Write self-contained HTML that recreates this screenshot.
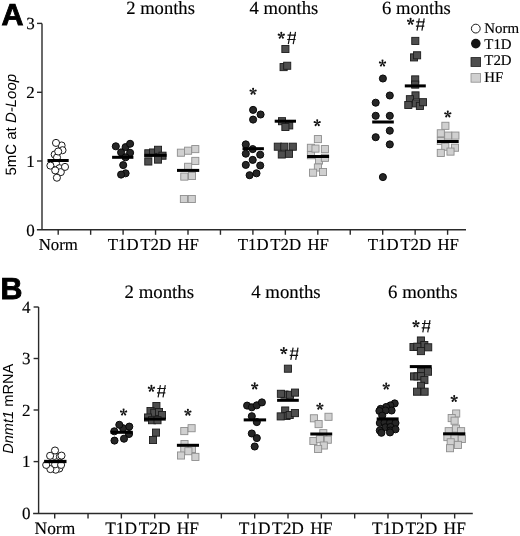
<!DOCTYPE html>
<html><head><meta charset="utf-8"><title>Figure</title>
<style>html,body{margin:0;padding:0;background:#fff;}svg{display:block;filter:blur(0.35px);} text{text-rendering:geometricPrecision;}</style></head>
<body><svg width="520" height="536" viewBox="0 0 520 536">
<defs><g id="ast" fill="#111">
<path id="arm" d="M-0.3,0.1 L-0.95,-2.45 A1.0,1.0 0 1,1 0.95,-2.45 L0.3,0.1 Z"/>
<use href="#arm" transform="rotate(72)"/><use href="#arm" transform="rotate(144)"/><use href="#arm" transform="rotate(216)"/><use href="#arm" transform="rotate(288)"/>
</g>
<g id="hash" stroke="#111" stroke-width="1.2" fill="none"><path d="M3.3,0.2 L1.0,12.5 M8.2,0.2 L5.9,12.5 M0.2,3.6 L8.7,3.6 M-0.1,7.9 L8.3,7.9"/></g>
</defs>
<rect width="520" height="536" fill="#fff"/>
<g stroke="#2a2a2a" stroke-width="1.4" fill="none">
<line x1="42" y1="23.4" x2="42" y2="229.8"/>
<line x1="36.9" y1="229.8" x2="466" y2="229.8"/>
<line x1="37" y1="23.4" x2="42" y2="23.4"/>
<line x1="37" y1="92.3" x2="42" y2="92.3"/>
<line x1="37" y1="161" x2="42" y2="161"/>
<line x1="58.2" y1="229.8" x2="58.2" y2="234.8"/>
<line x1="90.65" y1="229.8" x2="90.65" y2="234.8"/>
<line x1="123.10000000000001" y1="229.8" x2="123.10000000000001" y2="234.8"/>
<line x1="155.55" y1="229.8" x2="155.55" y2="234.8"/>
<line x1="188.0" y1="229.8" x2="188.0" y2="234.8"/>
<line x1="220.45" y1="229.8" x2="220.45" y2="234.8"/>
<line x1="252.90000000000003" y1="229.8" x2="252.90000000000003" y2="234.8"/>
<line x1="285.35" y1="229.8" x2="285.35" y2="234.8"/>
<line x1="317.8" y1="229.8" x2="317.8" y2="234.8"/>
<line x1="350.25" y1="229.8" x2="350.25" y2="234.8"/>
<line x1="382.7" y1="229.8" x2="382.7" y2="234.8"/>
<line x1="415.15000000000003" y1="229.8" x2="415.15000000000003" y2="234.8"/>
<line x1="447.6" y1="229.8" x2="447.6" y2="234.8"/>
</g>
<text x="34.7" y="29.2" font-family="Liberation Serif" font-size="17" text-anchor="end"  stroke="#000" stroke-width="0.15">3</text>
<text x="34.7" y="98.1" font-family="Liberation Serif" font-size="17" text-anchor="end"  stroke="#000" stroke-width="0.15">2</text>
<text x="34.7" y="166.8" font-family="Liberation Serif" font-size="17" text-anchor="end"  stroke="#000" stroke-width="0.15">1</text>
<text x="34.7" y="235.6" font-family="Liberation Serif" font-size="17" text-anchor="end"  stroke="#000" stroke-width="0.15">0</text>
<text x="1.6" y="24.9" font-family="Liberation Sans" font-size="30.4" text-anchor="start" font-weight="bold" stroke="#000" stroke-width="0.9">A</text>
<text transform="translate(16.4,175.6) rotate(-90)" font-family="Liberation Sans" font-size="15">5mC at <tspan font-style="italic">D-Loop</tspan></text>
<text x="126.2" y="13.9" font-family="Liberation Serif" font-size="18.6" text-anchor="start"  stroke="#000" stroke-width="0.15">2 months</text>
<text x="249.5" y="13.9" font-family="Liberation Serif" font-size="18.6" text-anchor="start"  stroke="#000" stroke-width="0.15">4 months</text>
<text x="382.1" y="13.8" font-family="Liberation Serif" font-size="18.6" text-anchor="start"  stroke="#000" stroke-width="0.15">6 months</text>
<text x="58.3" y="250.4" font-family="Liberation Serif" font-size="16.8" text-anchor="middle"  stroke="#000" stroke-width="0.15">Norm</text>
<text x="123.2" y="250.4" font-family="Liberation Serif" font-size="16.8" text-anchor="middle"  stroke="#000" stroke-width="0.15">T1D</text>
<text x="155.7" y="250.4" font-family="Liberation Serif" font-size="16.8" text-anchor="middle"  stroke="#000" stroke-width="0.15">T2D</text>
<text x="188.2" y="250.4" font-family="Liberation Serif" font-size="16.8" text-anchor="middle"  stroke="#000" stroke-width="0.15">HF</text>
<text x="253.2" y="250.4" font-family="Liberation Serif" font-size="16.8" text-anchor="middle"  stroke="#000" stroke-width="0.15">T1D</text>
<text x="285.7" y="250.4" font-family="Liberation Serif" font-size="16.8" text-anchor="middle"  stroke="#000" stroke-width="0.15">T2D</text>
<text x="318.2" y="250.4" font-family="Liberation Serif" font-size="16.8" text-anchor="middle"  stroke="#000" stroke-width="0.15">HF</text>
<text x="383.2" y="250.4" font-family="Liberation Serif" font-size="16.8" text-anchor="middle"  stroke="#000" stroke-width="0.15">T1D</text>
<text x="415.7" y="250.4" font-family="Liberation Serif" font-size="16.8" text-anchor="middle"  stroke="#000" stroke-width="0.15">T2D</text>
<text x="448.2" y="250.4" font-family="Liberation Serif" font-size="16.8" text-anchor="middle"  stroke="#000" stroke-width="0.15">HF</text>
<circle cx="61.6" cy="145.5" r="3.55" fill="#fff" stroke="#1a1a1a" stroke-width="1.0"/>
<circle cx="62.5" cy="150.2" r="3.55" fill="#fff" stroke="#1a1a1a" stroke-width="1.0"/>
<circle cx="54.7" cy="154.5" r="3.55" fill="#fff" stroke="#1a1a1a" stroke-width="1.0"/>
<circle cx="57.0" cy="157.5" r="3.55" fill="#fff" stroke="#1a1a1a" stroke-width="1.0"/>
<circle cx="56.0" cy="142.9" r="3.55" fill="#fff" stroke="#1a1a1a" stroke-width="1.0"/>
<circle cx="58.2" cy="151.5" r="3.55" fill="#fff" stroke="#1a1a1a" stroke-width="1.0"/>
<circle cx="56.0" cy="163.5" r="3.55" fill="#fff" stroke="#1a1a1a" stroke-width="1.0"/>
<circle cx="59.5" cy="168.2" r="3.55" fill="#fff" stroke="#1a1a1a" stroke-width="1.0"/>
<circle cx="60.8" cy="172.1" r="3.55" fill="#fff" stroke="#1a1a1a" stroke-width="1.0"/>
<circle cx="50.4" cy="165.6" r="3.55" fill="#fff" stroke="#1a1a1a" stroke-width="1.0"/>
<circle cx="65.0" cy="166.9" r="3.55" fill="#fff" stroke="#1a1a1a" stroke-width="1.0"/>
<circle cx="55.2" cy="170.4" r="3.55" fill="#fff" stroke="#1a1a1a" stroke-width="1.0"/>
<circle cx="56.9" cy="177.7" r="3.55" fill="#fff" stroke="#1a1a1a" stroke-width="1.0"/>
<rect x="47.5" y="159.00" width="21.2" height="3.0" fill="#000"/>
<circle cx="115.8" cy="146.3" r="3.55" fill="#262626" stroke="#080808" stroke-width="1.0"/>
<circle cx="125.6" cy="147.1" r="3.55" fill="#262626" stroke="#080808" stroke-width="1.0"/>
<circle cx="130.1" cy="143.8" r="3.55" fill="#262626" stroke="#080808" stroke-width="1.0"/>
<circle cx="121.1" cy="152.4" r="3.55" fill="#262626" stroke="#080808" stroke-width="1.0"/>
<circle cx="130.1" cy="152.8" r="3.55" fill="#262626" stroke="#080808" stroke-width="1.0"/>
<circle cx="125.6" cy="157.3" r="3.55" fill="#262626" stroke="#080808" stroke-width="1.0"/>
<circle cx="123.2" cy="165.1" r="3.55" fill="#262626" stroke="#080808" stroke-width="1.0"/>
<circle cx="125.6" cy="173.3" r="3.55" fill="#262626" stroke="#080808" stroke-width="1.0"/>
<circle cx="121.1" cy="174.6" r="3.55" fill="#262626" stroke="#080808" stroke-width="1.0"/>
<rect x="112.1" y="155.80" width="21.3" height="3.0" fill="#000"/>
<rect x="144.75" y="149.75" width="7.10" height="7.10" fill="#4e4e4e" stroke="#1c1c1c" stroke-width="0.9"/>
<rect x="149.45" y="148.95" width="7.10" height="7.10" fill="#4e4e4e" stroke="#1c1c1c" stroke-width="0.9"/>
<rect x="154.45" y="146.25" width="7.10" height="7.10" fill="#4e4e4e" stroke="#1c1c1c" stroke-width="0.9"/>
<rect x="158.95" y="152.15" width="7.10" height="7.10" fill="#4e4e4e" stroke="#1c1c1c" stroke-width="0.9"/>
<rect x="144.75" y="157.95" width="7.10" height="7.10" fill="#4e4e4e" stroke="#1c1c1c" stroke-width="0.9"/>
<rect x="154.45" y="156.05" width="7.10" height="7.10" fill="#4e4e4e" stroke="#1c1c1c" stroke-width="0.9"/>
<rect x="144.4" y="153.80" width="22.2" height="3.0" fill="#000"/>
<rect x="177.35" y="149.15" width="7.10" height="7.10" fill="#d0d0d0" stroke="#8e8e8e" stroke-width="0.9"/>
<rect x="184.55" y="147.15" width="7.10" height="7.10" fill="#d0d0d0" stroke="#8e8e8e" stroke-width="0.9"/>
<rect x="191.75" y="145.55" width="7.10" height="7.10" fill="#d0d0d0" stroke="#8e8e8e" stroke-width="0.9"/>
<rect x="191.75" y="157.35" width="7.10" height="7.10" fill="#d0d0d0" stroke="#8e8e8e" stroke-width="0.9"/>
<rect x="184.55" y="163.25" width="7.10" height="7.10" fill="#d0d0d0" stroke="#8e8e8e" stroke-width="0.9"/>
<rect x="180.75" y="173.05" width="7.10" height="7.10" fill="#d0d0d0" stroke="#8e8e8e" stroke-width="0.9"/>
<rect x="188.45" y="172.35" width="7.10" height="7.10" fill="#d0d0d0" stroke="#8e8e8e" stroke-width="0.9"/>
<rect x="180.35" y="195.45" width="7.10" height="7.10" fill="#d0d0d0" stroke="#8e8e8e" stroke-width="0.9"/>
<rect x="188.25" y="195.45" width="7.10" height="7.10" fill="#d0d0d0" stroke="#8e8e8e" stroke-width="0.9"/>
<rect x="177.0" y="168.90" width="22.2" height="3.0" fill="#000"/>
<use href="#ast" x="253.10" y="91.40"/>
<circle cx="253.1" cy="109.9" r="3.55" fill="#262626" stroke="#080808" stroke-width="1.0"/>
<circle cx="260.6" cy="114.5" r="3.55" fill="#262626" stroke="#080808" stroke-width="1.0"/>
<circle cx="253.1" cy="119.6" r="3.55" fill="#262626" stroke="#080808" stroke-width="1.0"/>
<circle cx="245.8" cy="144.4" r="3.55" fill="#262626" stroke="#080808" stroke-width="1.0"/>
<circle cx="252.7" cy="149.1" r="3.55" fill="#262626" stroke="#080808" stroke-width="1.0"/>
<circle cx="245.8" cy="153.7" r="3.55" fill="#262626" stroke="#080808" stroke-width="1.0"/>
<circle cx="260.2" cy="154.7" r="3.55" fill="#262626" stroke="#080808" stroke-width="1.0"/>
<circle cx="252.7" cy="159.9" r="3.55" fill="#262626" stroke="#080808" stroke-width="1.0"/>
<circle cx="245.8" cy="164.9" r="3.55" fill="#262626" stroke="#080808" stroke-width="1.0"/>
<circle cx="260.2" cy="165.5" r="3.55" fill="#262626" stroke="#080808" stroke-width="1.0"/>
<circle cx="249.6" cy="175.2" r="3.55" fill="#262626" stroke="#080808" stroke-width="1.0"/>
<circle cx="256.5" cy="173.3" r="3.55" fill="#262626" stroke="#080808" stroke-width="1.0"/>
<rect x="242.5" y="147.20" width="21.4" height="3.0" fill="#000"/>
<use href="#ast" x="281.30" y="35.50"/>
<use href="#hash" x="287.30" y="31.60"/>
<rect x="281.85" y="45.45" width="7.10" height="7.10" fill="#4e4e4e" stroke="#1c1c1c" stroke-width="0.9"/>
<rect x="280.05" y="63.55" width="7.10" height="7.10" fill="#4e4e4e" stroke="#1c1c1c" stroke-width="0.9"/>
<rect x="283.65" y="62.20" width="7.10" height="7.10" fill="#4e4e4e" stroke="#1c1c1c" stroke-width="0.9"/>
<rect x="278.45" y="117.65" width="7.10" height="7.10" fill="#4e4e4e" stroke="#1c1c1c" stroke-width="0.9"/>
<rect x="285.65" y="121.85" width="7.10" height="7.10" fill="#4e4e4e" stroke="#1c1c1c" stroke-width="0.9"/>
<rect x="281.85" y="123.45" width="7.10" height="7.10" fill="#4e4e4e" stroke="#1c1c1c" stroke-width="0.9"/>
<rect x="274.25" y="143.15" width="7.10" height="7.10" fill="#4e4e4e" stroke="#1c1c1c" stroke-width="0.9"/>
<rect x="280.75" y="143.15" width="7.10" height="7.10" fill="#4e4e4e" stroke="#1c1c1c" stroke-width="0.9"/>
<rect x="289.25" y="143.15" width="7.10" height="7.10" fill="#4e4e4e" stroke="#1c1c1c" stroke-width="0.9"/>
<rect x="278.25" y="150.95" width="7.10" height="7.10" fill="#4e4e4e" stroke="#1c1c1c" stroke-width="0.9"/>
<rect x="285.45" y="150.25" width="7.10" height="7.10" fill="#4e4e4e" stroke="#1c1c1c" stroke-width="0.9"/>
<rect x="274.7" y="119.70" width="21.3" height="3.0" fill="#000"/>
<use href="#ast" x="317.20" y="122.90"/>
<rect x="314.35" y="135.55" width="7.10" height="7.10" fill="#d0d0d0" stroke="#8e8e8e" stroke-width="0.9"/>
<rect x="307.35" y="144.25" width="7.10" height="7.10" fill="#d0d0d0" stroke="#8e8e8e" stroke-width="0.9"/>
<rect x="307.35" y="151.65" width="7.10" height="7.10" fill="#d0d0d0" stroke="#8e8e8e" stroke-width="0.9"/>
<rect x="311.95" y="145.05" width="7.10" height="7.10" fill="#d0d0d0" stroke="#8e8e8e" stroke-width="0.9"/>
<rect x="321.35" y="145.55" width="7.10" height="7.10" fill="#d0d0d0" stroke="#8e8e8e" stroke-width="0.9"/>
<rect x="315.45" y="156.95" width="7.10" height="7.10" fill="#d0d0d0" stroke="#8e8e8e" stroke-width="0.9"/>
<rect x="321.35" y="154.25" width="7.10" height="7.10" fill="#d0d0d0" stroke="#8e8e8e" stroke-width="0.9"/>
<rect x="314.35" y="163.95" width="7.10" height="7.10" fill="#d0d0d0" stroke="#8e8e8e" stroke-width="0.9"/>
<rect x="309.55" y="169.15" width="7.10" height="7.10" fill="#d0d0d0" stroke="#8e8e8e" stroke-width="0.9"/>
<rect x="319.45" y="168.45" width="7.10" height="7.10" fill="#d0d0d0" stroke="#8e8e8e" stroke-width="0.9"/>
<rect x="307.1" y="155.00" width="22.0" height="3.0" fill="#000"/>
<use href="#ast" x="382.50" y="63.30"/>
<circle cx="382.9" cy="78.5" r="3.55" fill="#262626" stroke="#080808" stroke-width="1.0"/>
<circle cx="389.8" cy="95.5" r="3.55" fill="#262626" stroke="#080808" stroke-width="1.0"/>
<circle cx="375.7" cy="102.7" r="3.55" fill="#262626" stroke="#080808" stroke-width="1.0"/>
<circle cx="375.7" cy="115.8" r="3.55" fill="#262626" stroke="#080808" stroke-width="1.0"/>
<circle cx="389.8" cy="115.8" r="3.55" fill="#262626" stroke="#080808" stroke-width="1.0"/>
<circle cx="389.8" cy="130.7" r="3.55" fill="#262626" stroke="#080808" stroke-width="1.0"/>
<circle cx="375.7" cy="137.2" r="3.55" fill="#262626" stroke="#080808" stroke-width="1.0"/>
<circle cx="389.8" cy="144.4" r="3.55" fill="#262626" stroke="#080808" stroke-width="1.0"/>
<circle cx="382.9" cy="177.1" r="3.55" fill="#262626" stroke="#080808" stroke-width="1.0"/>
<rect x="372.2" y="120.50" width="21.6" height="3.0" fill="#000"/>
<use href="#ast" x="410.60" y="21.55"/>
<use href="#hash" x="416.00" y="18.20"/>
<rect x="411.75" y="37.35" width="7.10" height="7.10" fill="#4e4e4e" stroke="#1c1c1c" stroke-width="0.9"/>
<rect x="410.45" y="53.85" width="7.10" height="7.10" fill="#4e4e4e" stroke="#1c1c1c" stroke-width="0.9"/>
<rect x="413.55" y="51.75" width="7.10" height="7.10" fill="#4e4e4e" stroke="#1c1c1c" stroke-width="0.9"/>
<rect x="411.65" y="75.85" width="7.10" height="7.10" fill="#4e4e4e" stroke="#1c1c1c" stroke-width="0.9"/>
<rect x="411.65" y="81.05" width="7.10" height="7.10" fill="#4e4e4e" stroke="#1c1c1c" stroke-width="0.9"/>
<rect x="411.95" y="91.85" width="7.10" height="7.10" fill="#4e4e4e" stroke="#1c1c1c" stroke-width="0.9"/>
<rect x="406.35" y="95.65" width="7.10" height="7.10" fill="#4e4e4e" stroke="#1c1c1c" stroke-width="0.9"/>
<rect x="404.75" y="101.45" width="7.10" height="7.10" fill="#4e4e4e" stroke="#1c1c1c" stroke-width="0.9"/>
<rect x="412.45" y="99.85" width="7.10" height="7.10" fill="#4e4e4e" stroke="#1c1c1c" stroke-width="0.9"/>
<rect x="416.35" y="102.35" width="7.10" height="7.10" fill="#4e4e4e" stroke="#1c1c1c" stroke-width="0.9"/>
<rect x="419.45" y="98.65" width="7.10" height="7.10" fill="#4e4e4e" stroke="#1c1c1c" stroke-width="0.9"/>
<rect x="404.8" y="84.40" width="21.0" height="3.0" fill="#000"/>
<use href="#ast" x="447.80" y="114.20"/>
<rect x="441.85" y="122.25" width="7.10" height="7.10" fill="#d0d0d0" stroke="#8e8e8e" stroke-width="0.9"/>
<rect x="437.25" y="129.75" width="7.10" height="7.10" fill="#d0d0d0" stroke="#8e8e8e" stroke-width="0.9"/>
<rect x="444.65" y="132.05" width="7.10" height="7.10" fill="#d0d0d0" stroke="#8e8e8e" stroke-width="0.9"/>
<rect x="451.85" y="132.05" width="7.10" height="7.10" fill="#d0d0d0" stroke="#8e8e8e" stroke-width="0.9"/>
<rect x="437.25" y="137.45" width="7.10" height="7.10" fill="#d0d0d0" stroke="#8e8e8e" stroke-width="0.9"/>
<rect x="441.75" y="143.15" width="7.10" height="7.10" fill="#d0d0d0" stroke="#8e8e8e" stroke-width="0.9"/>
<rect x="451.45" y="144.15" width="7.10" height="7.10" fill="#d0d0d0" stroke="#8e8e8e" stroke-width="0.9"/>
<rect x="437.25" y="149.35" width="7.10" height="7.10" fill="#d0d0d0" stroke="#8e8e8e" stroke-width="0.9"/>
<rect x="446.95" y="148.05" width="7.10" height="7.10" fill="#d0d0d0" stroke="#8e8e8e" stroke-width="0.9"/>
<rect x="437.0" y="140.00" width="21.7" height="3.0" fill="#000"/>
<circle cx="475.8" cy="28.6" r="4.4" fill="#fff" stroke="#1a1a1a" stroke-width="1"/>
<circle cx="475.8" cy="43.6" r="4.8" fill="#141414"/>
<rect x="471" y="57.6" width="9.6" height="8.8" fill="#4e4e4e" stroke="#1c1c1c" stroke-width="0.8"/>
<rect x="471" y="73.6" width="9.6" height="8.6" fill="#d0d0d0" stroke="#8e8e8e" stroke-width="0.8"/>
<text x="484.3" y="32.6" font-family="Liberation Serif" font-size="14.9" text-anchor="start"  stroke="#000" stroke-width="0.15">Norm</text>
<text x="484.3" y="48.7" font-family="Liberation Serif" font-size="14.9" text-anchor="start"  stroke="#000" stroke-width="0.15">T1D</text>
<text x="484.3" y="65.3" font-family="Liberation Serif" font-size="14.9" text-anchor="start"  stroke="#000" stroke-width="0.15">T2D</text>
<text x="484.3" y="81.5" font-family="Liberation Serif" font-size="14.9" text-anchor="start"  stroke="#000" stroke-width="0.15">HF</text>
<g stroke="#2a2a2a" stroke-width="1.4" fill="none">
<line x1="38.6" y1="307" x2="38.6" y2="513.5"/>
<line x1="33.1" y1="513.5" x2="472.8" y2="513.5"/>
<line x1="33.6" y1="307" x2="38.6" y2="307"/>
<line x1="33.6" y1="358.5" x2="38.6" y2="358.5"/>
<line x1="33.6" y1="410" x2="38.6" y2="410"/>
<line x1="33.6" y1="461.6" x2="38.6" y2="461.6"/>
<line x1="54.7" y1="513.5" x2="54.7" y2="518.5"/>
<line x1="88.03" y1="513.5" x2="88.03" y2="518.5"/>
<line x1="121.36" y1="513.5" x2="121.36" y2="518.5"/>
<line x1="154.69" y1="513.5" x2="154.69" y2="518.5"/>
<line x1="188.01999999999998" y1="513.5" x2="188.01999999999998" y2="518.5"/>
<line x1="221.34999999999997" y1="513.5" x2="221.34999999999997" y2="518.5"/>
<line x1="254.68" y1="513.5" x2="254.68" y2="518.5"/>
<line x1="288.01" y1="513.5" x2="288.01" y2="518.5"/>
<line x1="321.34" y1="513.5" x2="321.34" y2="518.5"/>
<line x1="354.66999999999996" y1="513.5" x2="354.66999999999996" y2="518.5"/>
<line x1="387.99999999999994" y1="513.5" x2="387.99999999999994" y2="518.5"/>
<line x1="421.33" y1="513.5" x2="421.33" y2="518.5"/>
<line x1="454.65999999999997" y1="513.5" x2="454.65999999999997" y2="518.5"/>
</g>
<text x="30.6" y="312.8" font-family="Liberation Serif" font-size="17" text-anchor="end"  stroke="#000" stroke-width="0.15">4</text>
<text x="30.6" y="364.3" font-family="Liberation Serif" font-size="17" text-anchor="end"  stroke="#000" stroke-width="0.15">3</text>
<text x="30.6" y="415.8" font-family="Liberation Serif" font-size="17" text-anchor="end"  stroke="#000" stroke-width="0.15">2</text>
<text x="30.6" y="467.4" font-family="Liberation Serif" font-size="17" text-anchor="end"  stroke="#000" stroke-width="0.15">1</text>
<text x="30.6" y="519.3" font-family="Liberation Serif" font-size="17" text-anchor="end"  stroke="#000" stroke-width="0.15">0</text>
<text x="0.4" y="299.3" font-family="Liberation Sans" font-size="30.4" text-anchor="start" font-weight="bold" stroke="#000" stroke-width="0.9">B</text>
<text transform="translate(12.7,453.8) rotate(-90)" font-family="Liberation Sans" font-size="14.6"><tspan font-style="italic">Dnmt1</tspan> mRNA</text>
<text x="124.6" y="297.5" font-family="Liberation Serif" font-size="18.8" text-anchor="start"  stroke="#000" stroke-width="0.15">2 months</text>
<text x="251.2" y="297.5" font-family="Liberation Serif" font-size="18.8" text-anchor="start"  stroke="#000" stroke-width="0.15">4 months</text>
<text x="388.1" y="297.5" font-family="Liberation Serif" font-size="18.8" text-anchor="start"  stroke="#000" stroke-width="0.15">6 months</text>
<text x="54.9" y="534.1" font-family="Liberation Serif" font-size="17.4" text-anchor="middle"  stroke="#000" stroke-width="0.15">Norm</text>
<text x="121.2" y="534.1" font-family="Liberation Serif" font-size="17.4" text-anchor="middle"  stroke="#000" stroke-width="0.15">T1D</text>
<text x="154.6" y="534.1" font-family="Liberation Serif" font-size="17.4" text-anchor="middle"  stroke="#000" stroke-width="0.15">T2D</text>
<text x="187.9" y="534.1" font-family="Liberation Serif" font-size="17.4" text-anchor="middle"  stroke="#000" stroke-width="0.15">HF</text>
<text x="254.6" y="534.1" font-family="Liberation Serif" font-size="17.4" text-anchor="middle"  stroke="#000" stroke-width="0.15">T1D</text>
<text x="288.0" y="534.1" font-family="Liberation Serif" font-size="17.4" text-anchor="middle"  stroke="#000" stroke-width="0.15">T2D</text>
<text x="321.3" y="534.1" font-family="Liberation Serif" font-size="17.4" text-anchor="middle"  stroke="#000" stroke-width="0.15">HF</text>
<text x="388.0" y="534.1" font-family="Liberation Serif" font-size="17.4" text-anchor="middle"  stroke="#000" stroke-width="0.15">T1D</text>
<text x="421.4" y="534.1" font-family="Liberation Serif" font-size="17.4" text-anchor="middle"  stroke="#000" stroke-width="0.15">T2D</text>
<text x="454.7" y="534.1" font-family="Liberation Serif" font-size="17.4" text-anchor="middle"  stroke="#000" stroke-width="0.15">HF</text>
<circle cx="54.5" cy="455.9" r="3.55" fill="#fff" stroke="#1a1a1a" stroke-width="1.0"/>
<circle cx="59.9" cy="456.5" r="3.55" fill="#fff" stroke="#1a1a1a" stroke-width="1.0"/>
<circle cx="61.5" cy="455.6" r="3.55" fill="#fff" stroke="#1a1a1a" stroke-width="1.0"/>
<circle cx="50.1" cy="455.8" r="3.55" fill="#fff" stroke="#1a1a1a" stroke-width="1.0"/>
<circle cx="55.0" cy="450.5" r="3.55" fill="#fff" stroke="#1a1a1a" stroke-width="1.0"/>
<circle cx="59.3" cy="468.5" r="3.55" fill="#fff" stroke="#1a1a1a" stroke-width="1.0"/>
<circle cx="55.7" cy="469.7" r="3.55" fill="#fff" stroke="#1a1a1a" stroke-width="1.0"/>
<circle cx="50.4" cy="469.1" r="3.55" fill="#fff" stroke="#1a1a1a" stroke-width="1.0"/>
<circle cx="46.2" cy="464.9" r="3.55" fill="#fff" stroke="#1a1a1a" stroke-width="1.0"/>
<circle cx="55.1" cy="464.3" r="3.55" fill="#fff" stroke="#1a1a1a" stroke-width="1.0"/>
<circle cx="61.1" cy="464.9" r="3.55" fill="#fff" stroke="#1a1a1a" stroke-width="1.0"/>
<rect x="44.1" y="459.85" width="22.4" height="3.3" fill="#000"/>
<use href="#ast" x="123.60" y="412.30"/>
<circle cx="123.1" cy="428.2" r="3.55" fill="#262626" stroke="#080808" stroke-width="1.0"/>
<circle cx="119.3" cy="424.8" r="3.55" fill="#262626" stroke="#080808" stroke-width="1.0"/>
<circle cx="129.3" cy="426.6" r="3.55" fill="#262626" stroke="#080808" stroke-width="1.0"/>
<circle cx="114.3" cy="431.3" r="3.55" fill="#262626" stroke="#080808" stroke-width="1.0"/>
<circle cx="129.0" cy="434.0" r="3.55" fill="#262626" stroke="#080808" stroke-width="1.0"/>
<circle cx="114.5" cy="440.6" r="3.55" fill="#262626" stroke="#080808" stroke-width="1.0"/>
<circle cx="124.0" cy="438.7" r="3.55" fill="#262626" stroke="#080808" stroke-width="1.0"/>
<rect x="110.5" y="430.80" width="22.3" height="3.0" fill="#000"/>
<use href="#ast" x="151.40" y="388.55"/>
<use href="#hash" x="157.10" y="384.90"/>
<rect x="152.85" y="402.45" width="7.10" height="7.10" fill="#4e4e4e" stroke="#1c1c1c" stroke-width="0.9"/>
<rect x="146.95" y="407.45" width="7.10" height="7.10" fill="#4e4e4e" stroke="#1c1c1c" stroke-width="0.9"/>
<rect x="150.75" y="409.15" width="7.10" height="7.10" fill="#4e4e4e" stroke="#1c1c1c" stroke-width="0.9"/>
<rect x="155.45" y="408.45" width="7.10" height="7.10" fill="#4e4e4e" stroke="#1c1c1c" stroke-width="0.9"/>
<rect x="158.45" y="411.45" width="7.10" height="7.10" fill="#4e4e4e" stroke="#1c1c1c" stroke-width="0.9"/>
<rect x="144.45" y="413.95" width="7.10" height="7.10" fill="#4e4e4e" stroke="#1c1c1c" stroke-width="0.9"/>
<rect x="148.45" y="416.65" width="7.10" height="7.10" fill="#4e4e4e" stroke="#1c1c1c" stroke-width="0.9"/>
<rect x="153.95" y="416.65" width="7.10" height="7.10" fill="#4e4e4e" stroke="#1c1c1c" stroke-width="0.9"/>
<rect x="152.45" y="429.05" width="7.10" height="7.10" fill="#4e4e4e" stroke="#1c1c1c" stroke-width="0.9"/>
<rect x="149.45" y="436.45" width="7.10" height="7.10" fill="#4e4e4e" stroke="#1c1c1c" stroke-width="0.9"/>
<rect x="144.0" y="417.60" width="21.8" height="3.0" fill="#000"/>
<use href="#ast" x="187.90" y="412.40"/>
<rect x="180.75" y="427.55" width="7.10" height="7.10" fill="#d0d0d0" stroke="#8e8e8e" stroke-width="0.9"/>
<rect x="188.05" y="424.65" width="7.10" height="7.10" fill="#d0d0d0" stroke="#8e8e8e" stroke-width="0.9"/>
<rect x="180.95" y="440.45" width="7.10" height="7.10" fill="#d0d0d0" stroke="#8e8e8e" stroke-width="0.9"/>
<rect x="180.75" y="445.45" width="7.10" height="7.10" fill="#d0d0d0" stroke="#8e8e8e" stroke-width="0.9"/>
<rect x="188.45" y="445.45" width="7.10" height="7.10" fill="#d0d0d0" stroke="#8e8e8e" stroke-width="0.9"/>
<rect x="184.85" y="447.65" width="7.10" height="7.10" fill="#d0d0d0" stroke="#8e8e8e" stroke-width="0.9"/>
<rect x="177.45" y="451.95" width="7.10" height="7.10" fill="#d0d0d0" stroke="#8e8e8e" stroke-width="0.9"/>
<rect x="191.85" y="453.35" width="7.10" height="7.10" fill="#d0d0d0" stroke="#8e8e8e" stroke-width="0.9"/>
<rect x="176.9" y="443.80" width="22.1" height="3.0" fill="#000"/>
<use href="#ast" x="254.70" y="386.10"/>
<circle cx="247.1" cy="405.6" r="3.55" fill="#262626" stroke="#080808" stroke-width="1.0"/>
<circle cx="251.8" cy="407.3" r="3.55" fill="#262626" stroke="#080808" stroke-width="1.0"/>
<circle cx="256.8" cy="405.3" r="3.55" fill="#262626" stroke="#080808" stroke-width="1.0"/>
<circle cx="261.9" cy="402.4" r="3.55" fill="#262626" stroke="#080808" stroke-width="1.0"/>
<circle cx="251.8" cy="416.2" r="3.55" fill="#262626" stroke="#080808" stroke-width="1.0"/>
<circle cx="256.8" cy="422.1" r="3.55" fill="#262626" stroke="#080808" stroke-width="1.0"/>
<circle cx="251.8" cy="433.5" r="3.55" fill="#262626" stroke="#080808" stroke-width="1.0"/>
<circle cx="256.8" cy="438.1" r="3.55" fill="#262626" stroke="#080808" stroke-width="1.0"/>
<circle cx="254.7" cy="446.5" r="3.55" fill="#262626" stroke="#080808" stroke-width="1.0"/>
<rect x="243.7" y="418.40" width="22.4" height="3.0" fill="#000"/>
<use href="#ast" x="283.80" y="350.80"/>
<use href="#hash" x="289.80" y="347.40"/>
<rect x="284.35" y="365.15" width="7.10" height="7.10" fill="#4e4e4e" stroke="#1c1c1c" stroke-width="0.9"/>
<rect x="280.95" y="391.05" width="7.10" height="7.10" fill="#4e4e4e" stroke="#1c1c1c" stroke-width="0.9"/>
<rect x="277.35" y="390.25" width="7.10" height="7.10" fill="#4e4e4e" stroke="#1c1c1c" stroke-width="0.9"/>
<rect x="286.45" y="391.25" width="7.10" height="7.10" fill="#4e4e4e" stroke="#1c1c1c" stroke-width="0.9"/>
<rect x="291.45" y="389.05" width="7.10" height="7.10" fill="#4e4e4e" stroke="#1c1c1c" stroke-width="0.9"/>
<rect x="281.65" y="406.95" width="7.10" height="7.10" fill="#4e4e4e" stroke="#1c1c1c" stroke-width="0.9"/>
<rect x="282.95" y="412.45" width="7.10" height="7.10" fill="#4e4e4e" stroke="#1c1c1c" stroke-width="0.9"/>
<rect x="277.15" y="412.85" width="7.10" height="7.10" fill="#4e4e4e" stroke="#1c1c1c" stroke-width="0.9"/>
<rect x="286.15" y="411.45" width="7.10" height="7.10" fill="#4e4e4e" stroke="#1c1c1c" stroke-width="0.9"/>
<rect x="291.35" y="409.55" width="7.10" height="7.10" fill="#4e4e4e" stroke="#1c1c1c" stroke-width="0.9"/>
<rect x="277.1" y="398.80" width="21.7" height="3.0" fill="#000"/>
<use href="#ast" x="319.90" y="406.40"/>
<rect x="310.35" y="414.75" width="7.10" height="7.10" fill="#d0d0d0" stroke="#8e8e8e" stroke-width="0.9"/>
<rect x="324.95" y="413.25" width="7.10" height="7.10" fill="#d0d0d0" stroke="#8e8e8e" stroke-width="0.9"/>
<rect x="315.05" y="420.55" width="7.10" height="7.10" fill="#d0d0d0" stroke="#8e8e8e" stroke-width="0.9"/>
<rect x="319.75" y="429.65" width="7.10" height="7.10" fill="#d0d0d0" stroke="#8e8e8e" stroke-width="0.9"/>
<rect x="309.85" y="437.45" width="7.10" height="7.10" fill="#d0d0d0" stroke="#8e8e8e" stroke-width="0.9"/>
<rect x="316.35" y="435.65" width="7.10" height="7.10" fill="#d0d0d0" stroke="#8e8e8e" stroke-width="0.9"/>
<rect x="324.25" y="436.15" width="7.10" height="7.10" fill="#d0d0d0" stroke="#8e8e8e" stroke-width="0.9"/>
<rect x="320.25" y="441.95" width="7.10" height="7.10" fill="#d0d0d0" stroke="#8e8e8e" stroke-width="0.9"/>
<rect x="314.55" y="445.35" width="7.10" height="7.10" fill="#d0d0d0" stroke="#8e8e8e" stroke-width="0.9"/>
<rect x="310.3" y="432.50" width="21.9" height="3.0" fill="#000"/>
<use href="#ast" x="386.20" y="386.30"/>
<circle cx="394.7" cy="403.4" r="3.55" fill="#262626" stroke="#080808" stroke-width="1.0"/>
<circle cx="390.4" cy="405.4" r="3.55" fill="#262626" stroke="#080808" stroke-width="1.0"/>
<circle cx="386.1" cy="407.0" r="3.55" fill="#262626" stroke="#080808" stroke-width="1.0"/>
<circle cx="380.6" cy="408.9" r="3.55" fill="#262626" stroke="#080808" stroke-width="1.0"/>
<circle cx="391.6" cy="410.5" r="3.55" fill="#262626" stroke="#080808" stroke-width="1.0"/>
<circle cx="385.5" cy="410.5" r="3.55" fill="#262626" stroke="#080808" stroke-width="1.0"/>
<circle cx="379.4" cy="410.9" r="3.55" fill="#262626" stroke="#080808" stroke-width="1.0"/>
<circle cx="382.2" cy="415.6" r="3.55" fill="#262626" stroke="#080808" stroke-width="1.0"/>
<circle cx="379.8" cy="423.0" r="3.55" fill="#262626" stroke="#080808" stroke-width="1.0"/>
<circle cx="384.5" cy="422.6" r="3.55" fill="#262626" stroke="#080808" stroke-width="1.0"/>
<circle cx="390.0" cy="422.6" r="3.55" fill="#262626" stroke="#080808" stroke-width="1.0"/>
<circle cx="395.5" cy="423.0" r="3.55" fill="#262626" stroke="#080808" stroke-width="1.0"/>
<circle cx="385.3" cy="427.3" r="3.55" fill="#262626" stroke="#080808" stroke-width="1.0"/>
<circle cx="390.5" cy="427.0" r="3.55" fill="#262626" stroke="#080808" stroke-width="1.0"/>
<circle cx="379.8" cy="430.5" r="3.55" fill="#262626" stroke="#080808" stroke-width="1.0"/>
<circle cx="390.4" cy="430.5" r="3.55" fill="#262626" stroke="#080808" stroke-width="1.0"/>
<circle cx="395.5" cy="429.3" r="3.55" fill="#262626" stroke="#080808" stroke-width="1.0"/>
<circle cx="381.4" cy="432.8" r="3.55" fill="#262626" stroke="#080808" stroke-width="1.0"/>
<circle cx="390.0" cy="432.4" r="3.55" fill="#262626" stroke="#080808" stroke-width="1.0"/>
<rect x="376.7" y="417.40" width="21.9" height="3.0" fill="#000"/>
<use href="#ast" x="416.00" y="324.00"/>
<use href="#hash" x="421.80" y="319.90"/>
<rect x="417.35" y="336.95" width="7.10" height="7.10" fill="#4e4e4e" stroke="#1c1c1c" stroke-width="0.9"/>
<rect x="420.75" y="341.45" width="7.10" height="7.10" fill="#4e4e4e" stroke="#1c1c1c" stroke-width="0.9"/>
<rect x="409.95" y="343.45" width="7.10" height="7.10" fill="#4e4e4e" stroke="#1c1c1c" stroke-width="0.9"/>
<rect x="413.75" y="343.15" width="7.10" height="7.10" fill="#4e4e4e" stroke="#1c1c1c" stroke-width="0.9"/>
<rect x="424.65" y="343.75" width="7.10" height="7.10" fill="#4e4e4e" stroke="#1c1c1c" stroke-width="0.9"/>
<rect x="417.35" y="347.55" width="7.10" height="7.10" fill="#4e4e4e" stroke="#1c1c1c" stroke-width="0.9"/>
<rect x="417.45" y="368.45" width="7.10" height="7.10" fill="#4e4e4e" stroke="#1c1c1c" stroke-width="0.9"/>
<rect x="424.45" y="368.15" width="7.10" height="7.10" fill="#4e4e4e" stroke="#1c1c1c" stroke-width="0.9"/>
<rect x="410.45" y="372.85" width="7.10" height="7.10" fill="#4e4e4e" stroke="#1c1c1c" stroke-width="0.9"/>
<rect x="413.95" y="372.85" width="7.10" height="7.10" fill="#4e4e4e" stroke="#1c1c1c" stroke-width="0.9"/>
<rect x="417.45" y="372.65" width="7.10" height="7.10" fill="#4e4e4e" stroke="#1c1c1c" stroke-width="0.9"/>
<rect x="420.85" y="376.55" width="7.10" height="7.10" fill="#4e4e4e" stroke="#1c1c1c" stroke-width="0.9"/>
<rect x="417.45" y="382.25" width="7.10" height="7.10" fill="#4e4e4e" stroke="#1c1c1c" stroke-width="0.9"/>
<rect x="413.45" y="388.15" width="7.10" height="7.10" fill="#4e4e4e" stroke="#1c1c1c" stroke-width="0.9"/>
<rect x="421.05" y="388.15" width="7.10" height="7.10" fill="#4e4e4e" stroke="#1c1c1c" stroke-width="0.9"/>
<rect x="409.8" y="365.10" width="21.9" height="3.0" fill="#000"/>
<use href="#ast" x="454.20" y="398.70"/>
<rect x="452.65" y="409.95" width="7.10" height="7.10" fill="#d0d0d0" stroke="#8e8e8e" stroke-width="0.9"/>
<rect x="448.15" y="414.55" width="7.10" height="7.10" fill="#d0d0d0" stroke="#8e8e8e" stroke-width="0.9"/>
<rect x="451.05" y="417.15" width="7.10" height="7.10" fill="#d0d0d0" stroke="#8e8e8e" stroke-width="0.9"/>
<rect x="452.35" y="425.05" width="7.10" height="7.10" fill="#d0d0d0" stroke="#8e8e8e" stroke-width="0.9"/>
<rect x="445.15" y="427.65" width="7.10" height="7.10" fill="#d0d0d0" stroke="#8e8e8e" stroke-width="0.9"/>
<rect x="457.55" y="427.65" width="7.10" height="7.10" fill="#d0d0d0" stroke="#8e8e8e" stroke-width="0.9"/>
<rect x="443.85" y="433.55" width="7.10" height="7.10" fill="#d0d0d0" stroke="#8e8e8e" stroke-width="0.9"/>
<rect x="451.05" y="434.85" width="7.10" height="7.10" fill="#d0d0d0" stroke="#8e8e8e" stroke-width="0.9"/>
<rect x="458.25" y="435.45" width="7.10" height="7.10" fill="#d0d0d0" stroke="#8e8e8e" stroke-width="0.9"/>
<rect x="447.15" y="438.75" width="7.10" height="7.10" fill="#d0d0d0" stroke="#8e8e8e" stroke-width="0.9"/>
<rect x="454.35" y="441.35" width="7.10" height="7.10" fill="#d0d0d0" stroke="#8e8e8e" stroke-width="0.9"/>
<rect x="446.45" y="444.65" width="7.10" height="7.10" fill="#d0d0d0" stroke="#8e8e8e" stroke-width="0.9"/>
<rect x="443.1" y="432.30" width="22.2" height="3.0" fill="#000"/>
</svg></body></html>
